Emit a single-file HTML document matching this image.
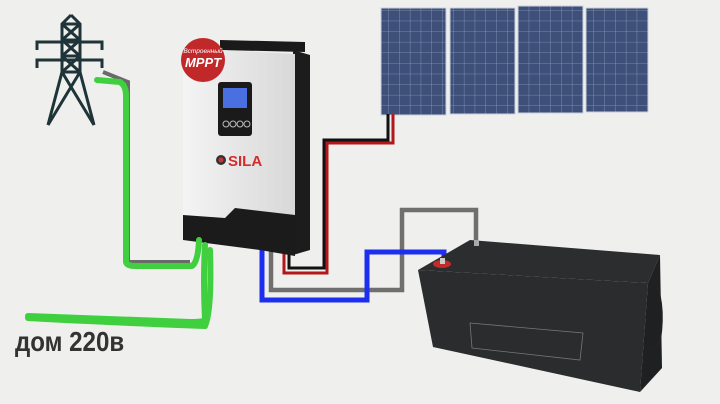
<!DOCTYPE html>
<html><head><meta charset="utf-8"><style>
html,body{margin:0;padding:0;background:#efefed;}
svg{display:block}
</style></head><body>
<svg width="720" height="404" viewBox="0 0 720 404" xmlns="http://www.w3.org/2000/svg">
<defs>
<pattern id="grid" width="10.8" height="10.6" patternUnits="userSpaceOnUse">
<rect width="10.8" height="10.6" fill="#3e507a"/>
<path d="M10.8 0V10.6M0 10.6H10.8" stroke="#8a9ab8" stroke-width="0.8"/>
</pattern>
<linearGradient id="inv" x1="0" x2="1"><stop offset="0" stop-color="#f4f4f4"/><stop offset="1" stop-color="#d8d8d8"/></linearGradient>
</defs>
<rect width="720" height="404" fill="#efefed"/>
<!-- tower -->
<g stroke="#1e3438" stroke-width="3" fill="none">
<path d="M71 15L62 24V72L48 125M71 15L80 24V72L94 125"/>
<path d="M62 24L80 40M80 24L62 40M62 40L80 56M80 40L62 56M62 56L80 72M80 56L62 72M62 72L94 125M80 72L48 125"/>
<path d="M37 50V42H102V50M37 68V60H102V68"/>
<path d="M62 24H80M62 40H80M62 56H80M62 72H80"/>
</g>
<!-- panels -->
<rect x="381" y="8" width="65" height="107" fill="url(#grid)" stroke="#c9d2e0"/>
<rect x="450" y="8" width="65" height="106" fill="url(#grid)" stroke="#c9d2e0"/>
<rect x="518" y="6" width="65" height="107" fill="url(#grid)" stroke="#c9d2e0"/>
<rect x="586" y="8" width="62" height="104" fill="url(#grid)" stroke="#c9d2e0"/>
<!-- wires -->
<g fill="none" stroke-linejoin="miter">
<path d="M388 114V140H324V268H289V250" stroke="#111" stroke-width="3"/>
<path d="M393 114V143H327V273H284V250" stroke="#b3171b" stroke-width="3"/>
<path d="M271 250V290H402V210H476V243" stroke="#6f6f6f" stroke-width="4.5"/>
<path d="M262 250V300H367V252H444V264" stroke="#1d2ef0" stroke-width="5"/>
<path d="M103 72L128 82V262H190" stroke="#6a6a6a" stroke-width="4"/>
</g>
<!-- inverter -->
<polygon points="220,40 305,42 305,52 220,50" fill="#1a1a1a"/>
<polygon points="293,50 310,55 310,250 293,255" fill="#1c1c1c"/>
<polygon points="183,48 295,54 295,225 183,220" fill="url(#inv)"/>
<polygon points="183,215 225,218 235,208 295,215 295,256 260,250 183,240" fill="#1b1b1b"/>
<rect x="218" y="82" width="34" height="54" rx="3" fill="#1a1a1a"/>
<rect x="223" y="88" width="24" height="20" fill="#4a6fe0"/>
<g fill="none" stroke="#bbb" stroke-width="1"><circle cx="226" cy="124" r="3"/><circle cx="233" cy="124" r="3"/><circle cx="240" cy="124" r="3"/><circle cx="247" cy="124" r="3"/></g>
<circle cx="221" cy="160" r="5" fill="#333"/><circle cx="221" cy="160" r="2.5" fill="#c33"/>
<text x="228" y="166" font-family="Liberation Sans, sans-serif" font-weight="bold" font-size="15" fill="#d22d2d">SILA</text>
<circle cx="203" cy="60" r="22" fill="#c0282a"/>
<text x="203" y="53" text-anchor="middle" font-family="Liberation Sans, sans-serif" font-style="italic" font-size="6.5" fill="#fff">Встроенный</text>
<text x="203" y="67" text-anchor="middle" font-family="Liberation Sans, sans-serif" font-style="italic" font-weight="bold" font-size="13" fill="#fff">MPPT</text>
<!-- green -->
<g fill="none" stroke="#3fcf3f" stroke-width="6" stroke-linecap="round" stroke-linejoin="round">
<path d="M97 80L120 82Q126 86 126 95V262Q127 266 135 266H192Q198 262 199 240"/>
<path d="M205 245Q203 280 205 320Q204 322 190 322L28 316"/>
<path d="M28 318Q100 322 205 326Q212 310 210 250"/>
</g>
<!-- battery -->
<polygon points="418,270 470,240 660,255 648,283" fill="#2b2d2f"/>
<polygon points="418,270 648,283 640,392 433,347" fill="#2a2c2d"/>
<polygon points="648,283 660,255 662,368 640,392" fill="#1e2021"/>
<path d="M652 275Q666 300 660 340Q656 352 648 348" fill="none" stroke="#222" stroke-width="2"/>
<ellipse cx="442" cy="264" rx="9" ry="4" fill="#c32a2a"/>
<rect x="440" y="258" width="5" height="6" fill="#ccc"/>
<rect x="474" y="240" width="5" height="6" fill="#aaa"/>
<polygon points="470,323 583,333 580,360 472,348" fill="none" stroke="#777" stroke-width="0.8"/>
<!-- text -->
<text x="0" y="0" font-family="Liberation Sans, sans-serif" font-weight="bold" font-size="28" fill="#333" transform="translate(15,351) scale(0.86,1)">дом 220в</text>
</svg>
</body></html>
